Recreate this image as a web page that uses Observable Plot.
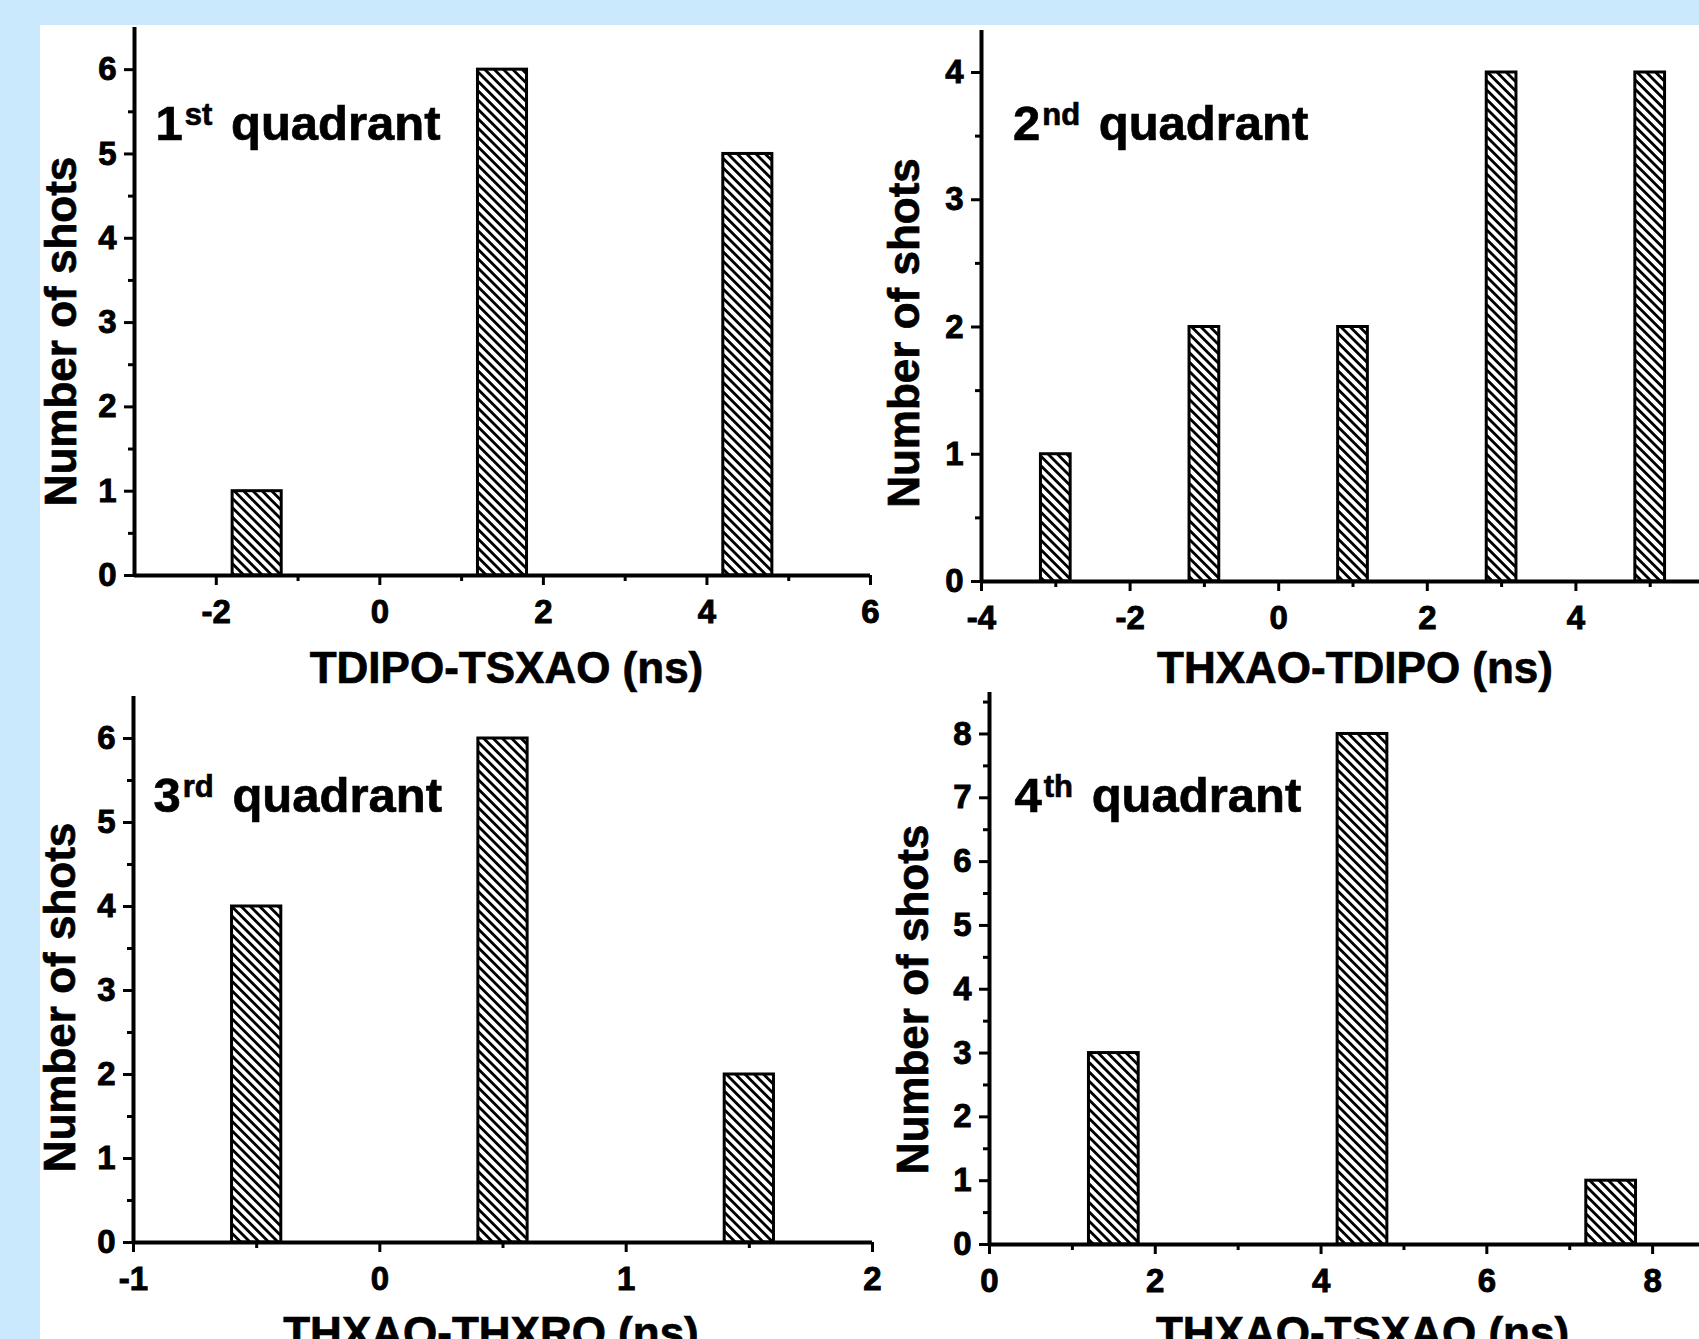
<!DOCTYPE html>
<html>
<head>
<meta charset="utf-8">
<script src="https://cdn.jsdelivr.net/npm/d3@7"></script>
<script src="https://cdn.jsdelivr.net/npm/@observablehq/plot@0.6"></script>
<style>
  html, body { margin: 0; padding: 0; overflow: hidden; background: #cbe9fc; }
  #page { position: relative; width: 1699px; height: 1339px; overflow: hidden; background: #cbe9fc; }
  #white { position: absolute; left: 40px; top: 25px; right: 0; bottom: 0; background: #ffffff; }
  #page svg text { stroke: black; stroke-width: 0.7px; }
  #page svg text.ticklab { font-size: 33px !important; font-weight: bold !important; stroke-width: 0.9px; }
</style>
</head>
<body>
<div id="page"><div id="white"></div></div>
<script>
// ---------------- data ----------------
const q1Centers = [-1.5, 1.5, 4.5];
const q1Counts  = [1, 6, 5];
const q2Centers = [-3, -1, 1, 3, 5];
const q2Counts  = [1, 2, 2, 4, 4];
const q3Centers = [-0.5, 0.5, 1.5];
const q3Counts  = [4, 6, 2];
const q4Centers = [1.5, 4.5, 7.5];
const q4Counts  = [3, 8, 1];

const xTitles = ["TDIPO-TSXAO (ns)", "THXAO-TDIPO (ns)", "THXAO-THXRO (ns)", "THXAO-TSXAO (ns)"];
const yTitle = "Number of shots";
const ordinals = ["1", "2", "3", "4"];
const suffixes = ["st", "nd", "rd", "th"];
const quadWord = "quadrant";

const q1XMajor = [-2, 0, 2, 4, 6];     const q1XMinor = [-1, 1, 3, 5];
const q2XMajor = [-4, -2, 0, 2, 4];    const q2XMinor = [-3, -1, 1, 3, 5];
const q3XMajor = [-1, 0, 1, 2];        const q3XMinor = [-0.5, 0.5, 1.5];
const q4XMajor = [0, 2, 4, 6, 8];      const q4XMinor = [1, 3, 5, 7];
const q1YMajor = [0, 1, 2, 3, 4, 5, 6]; const q1YMinor = [0.5, 1.5, 2.5, 3.5, 4.5, 5.5];
const q2YMajor = [0, 1, 2, 3, 4];       const q2YMinor = [0.5, 1.5, 2.5, 3.5];
const q3YMajor = [0, 1, 2, 3, 4, 5, 6]; const q3YMinor = [0.5, 1.5, 2.5, 3.5, 4.5, 5.5];
const q4YMajor = [0, 1, 2, 3, 4, 5, 6, 7, 8]; const q4YMinor = [0.5, 1.5, 2.5, 3.5, 4.5, 5.5, 6.5, 7.5, 8.5];

// ---------------- layout ----------------
const FONT = "'Liberation Sans', Arial, Helvetica, sans-serif";
const panels = [
  {centers: q1Centers, counts: q1Counts, xMajor: q1XMajor, xMinor: q1XMinor, yMajor: q1YMajor, yMinor: q1YMinor,
   xDomain: [-3, 6], yDomain: [0, 6.5], barW: 0.6,
   left: 0, top: 0, width: 880, height: 700, ml: 134, mr: 10, mt: 27, mb: 125,
   yt: {dx: -73, dy: 30}, xt: {dx: 4, dy: 107}, qt: {dx: 21, dy: 112}},
  {centers: q2Centers, counts: q2Counts, xMajor: q2XMajor, xMinor: q2XMinor, yMajor: q2YMajor, yMinor: q2YMinor,
   xDomain: [-4, 6], yDomain: [0, 4.33], barW: 0.4,
   left: 860, top: 0, width: 875, height: 700, ml: 121, mr: 11, mt: 30, mb: 119,
   yt: {dx: -76.5, dy: 27}, xt: {dx: 2, dy: 101}, qt: {dx: 31.5, dy: 109}},
  {centers: q3Centers, counts: q3Counts, xMajor: q3XMajor, xMinor: q3XMinor, yMajor: q3YMajor, yMinor: q3YMinor,
   xDomain: [-1, 2], yDomain: [0, 6.5], barW: 0.2,
   left: 0, top: 670, width: 882, height: 669, ml: 133, mr: 10, mt: 26, mb: 97,
   yt: {dx: -73, dy: 28}, xt: {dx: -12, dy: 105}, qt: {dx: 20, dy: 115}},
  {centers: q4Centers, counts: q4Counts, xMajor: q4XMajor, xMinor: q4XMinor, yMajor: q4YMajor, yMinor: q4YMinor,
   xDomain: [0, 9], yDomain: [0, 8.65], barW: 0.6,
   left: 860, top: 670, width: 885, height: 669, ml: 129, mr: 10, mt: 22, mb: 95,
   yt: {dx: -75.5, dy: 31}, xt: {dx: 0, dy: 103}, qt: {dx: 25, dy: 119}}
];

const page = document.getElementById("page");
const fmt = d => String(d);

panels.forEach((p, i) => {
  const data = p.centers.map((c, k) => ({c, n: p.counts[k]}));
  const hw = p.barW / 2;
  const patId = "hatch" + i;
  const quadText = ordinals[i] + suffixes[i] + " " + quadWord;
  const svg = Plot.plot({
    width: p.width, height: p.height,
    marginLeft: p.ml, marginRight: p.mr, marginTop: p.mt, marginBottom: p.mb,
    x: {domain: p.xDomain},
    y: {domain: p.yDomain},
    style: {background: "transparent", color: "black", fontFamily: FONT, overflow: "visible", maxWidth: "none"},
    marks: [
      Plot.rect(data, {x1: d => d.c - hw, x2: d => d.c + hw, y1: 0, y2: "n",
        fill: `url(#${patId})`, stroke: "black", strokeWidth: 3}),
      Plot.axisY({ticks: p.yMajor, tickSize: 10, tickPadding: 8, tickFormat: fmt, fontSize: 33, fontWeight: "bold", strokeWidth: 3, label: null}),
      Plot.axisY({ticks: p.yMinor, tickSize: 6, tickFormat: () => "", strokeWidth: 3, label: null}),
      Plot.axisX({ticks: p.xMajor, tickSize: 10, tickPadding: 14, tickFormat: fmt, fontSize: 33, fontWeight: "bold", strokeWidth: 3, label: null}),
      Plot.axisX({ticks: p.xMinor, tickSize: 6, tickFormat: () => "", strokeWidth: 3, label: null}),
      Plot.ruleY([p.yDomain[0]], {strokeWidth: 4}),
      Plot.ruleX([p.xDomain[0]], {strokeWidth: 4}),
      Plot.text([yTitle], {text: d => d, frameAnchor: "left", textAnchor: "middle", lineAnchor: "middle", rotate: -90,
        dx: p.yt.dx, dy: p.yt.dy, fontSize: 44, fontWeight: "bold"}),
      Plot.text([xTitles[i]], {text: d => d, frameAnchor: "bottom", textAnchor: "middle", lineAnchor: "bottom",
        dx: p.xt.dx, dy: p.xt.dy, fontSize: 44, fontWeight: "bold"}),
      Plot.text([quadText], {text: d => d, frameAnchor: "top-left", textAnchor: "start", lineAnchor: "bottom",
        dx: p.qt.dx, dy: p.qt.dy, fontSize: 49, fontWeight: "bold"})
    ]
  });

  // tick labels: mark every numeric tick text so CSS sizes it
  d3.select(svg).selectAll("text")
    .filter(function () { return /^-?\d+(\.\d+)?$/.test(this.textContent); })
    .classed("ticklab", true);

  // hatch pattern
  const P = 6.6;
  const defs = d3.select(svg).insert("defs", ":first-child");
  const pat = defs.append("pattern").attr("id", patId).attr("patternUnits", "userSpaceOnUse")
    .attr("width", P).attr("height", P).attr("patternTransform", "rotate(-45)");
  pat.append("rect").attr("width", P).attr("height", P).attr("fill", "white");
  pat.append("line").attr("x1", P / 2).attr("y1", -1).attr("x2", P / 2).attr("y2", P + 1)
    .attr("stroke", "black").attr("stroke-width", 2.8);

  // superscript in quadrant label
  d3.select(svg).selectAll("text").filter(function () { return this.textContent === quadText; })
    .each(function () {
      const t = d3.select(this);
      t.text(null);
      t.append("tspan").text(ordinals[i]);
      t.append("tspan").attr("font-size", 31).attr("dx", 2).attr("dy", -15).text(suffixes[i]);
      t.append("tspan").attr("dx", 5).attr("dy", 15).text(" " + quadWord);
    });

  svg.style.position = "absolute";
  svg.style.left = p.left + "px";
  svg.style.top = p.top + "px";
  page.appendChild(svg);
});
</script>
</body>
</html>
